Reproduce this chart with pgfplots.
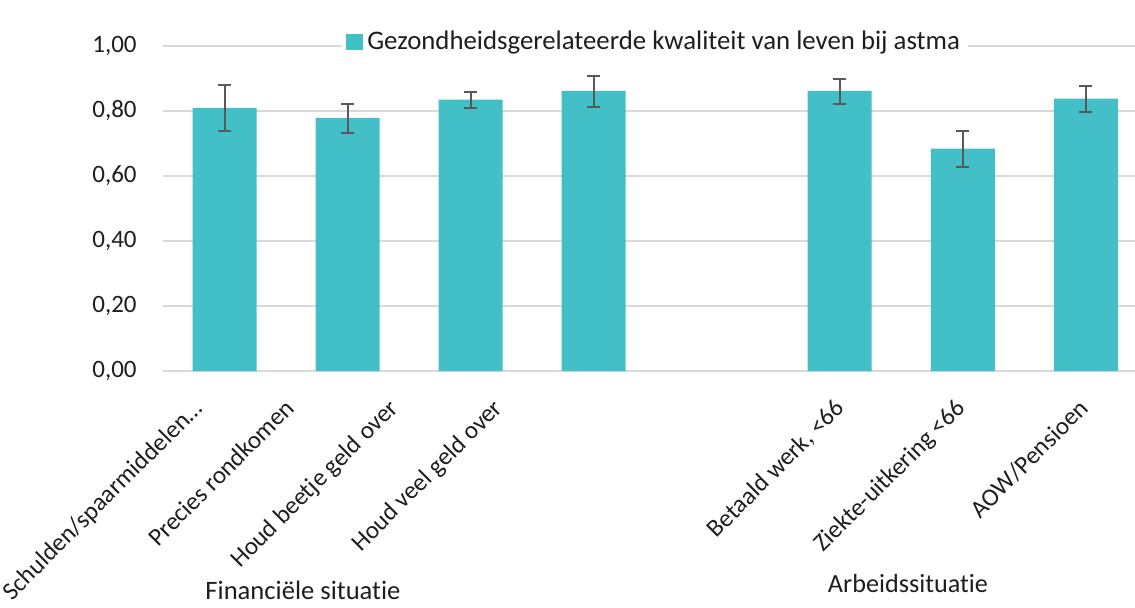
\documentclass[border=0pt]{standalone}
\usepackage{pgfplots}
\pgfplotsset{compat=1.18}
\usepackage{fontspec}
\setmainfont{Carlito}[Ligatures={NoCommon}]
\definecolor{barc}{RGB}{67,192,199}
\definecolor{errc}{RGB}{89,89,89}
\definecolor{gridc}{RGB}{217,217,217}
\definecolor{txtc}{RGB}{30,30,30}
\pgfplotstableread{
x y ep em
0 0.810 0.070 0.072
1 0.779 0.043 0.046
2 0.835 0.025 0.027
3 0.862 0.046 0.050
5 0.862 0.038 0.041
6 0.684 0.053 0.057
7 0.838 0.039 0.041
}\datatable
\begin{document}
\begin{tikzpicture}[font=\fontsize{12.5}{15}\selectfont, text=txtc]
\useasboundingbox (0,0) rectangle (567.5pt,-303.5pt);
\begin{axis}[
  at={(81.5pt,-185.5pt)}, anchor=south west,
  scale only axis, width=486pt, height=162.5pt,
  xmin=-0.5, xmax=7.4, ymin=0, ymax=1,
  axis line style={draw=none},
  ymajorgrids, major grid style={gridc, line width=0.9pt},
  ytick={0,0.2,0.4,0.6,0.8,1.0},
  major tick length=0pt,
  /pgf/number format/fixed, /pgf/number format/fixed zerofill,
  /pgf/number format/precision=2, /pgf/number format/use comma,
  /pgf/number format/assume math mode=true,
  every y tick label/.append style={anchor=east, inner sep=0pt, xshift=-13pt, font=\fontsize{12.5}{15}\selectfont, text=txtc},
  xtick={-0.27,0.48,1.32,2.17,4.95,5.93,6.93},
  xticklabels={{Schulden/spaarmiddelen…}, {Precies rondkomen}, {Houd beetje geld over}, {Houd veel geld over}, {Betaald werk, <66}, {Ziekte-uitkering <66}, {AOW/Pensioen}},
  every x tick label/.append style={yshift=-13pt, rotate=45, anchor=north east, inner sep=0pt, font=\fontsize{12.5}{15}\selectfont, text=txtc},
  ybar, bar width=32pt,
  legend style={at={(0.184,1.0123)}, anchor=west, draw=none, fill=white, font=\fontsize{13.4}{16}\selectfont, text=txtc, inner xsep=2pt, inner ysep=1pt},
  legend image code/.code={\fill[barc] (0pt,-4pt) rectangle (8.5pt,4pt);},
]
\addplot[ybar, bar shift=0pt, fill=barc, draw=none,
  error bars/.cd, y dir=both, y explicit,
  error bar style={errc, line width=1pt},
  error mark options={errc, line width=1pt, mark size=3.25pt, rotate=90}]
  table[x=x, y=y, y error plus=ep, y error minus=em] {\datatable};
\addlegendentry{Gezondheidsgerelateerde kwaliteit van leven bij astma}
\end{axis}
\node[font=\fontsize{13.3}{16}\selectfont] at (151.5pt,-295pt) {Financiële situatie};
\node[font=\fontsize{13.1}{16}\selectfont] at (454pt,-291.5pt) {Arbeidssituatie};
\end{tikzpicture}
\end{document}
